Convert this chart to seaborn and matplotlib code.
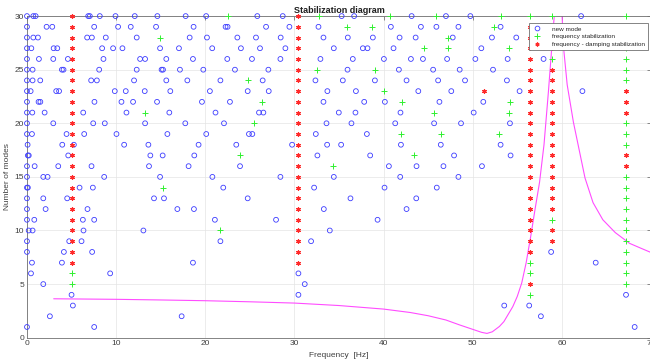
import matplotlib
matplotlib.use("Agg")
import matplotlib.pyplot as plt
from matplotlib.lines import Line2D
import pandas as pd
import seaborn as sns

# Identified poles per model order (frequencies in Hz)
new_mode_hz = {
    30: [0, 0.71, 0.97, 6.87, 7.05, 8.17, 9.93, 12.09, 14.63, 17.8, 20.1, 25.84, 28.69,
         35.3, 36.7, 43.15, 47.0, 49.74, 62.16],
    29: [0, 2.2, 2.84, 7.54, 10.22, 11.64, 14.48, 18.69, 22.28, 22.5, 26.82, 29.44, 32.7,
         40.82, 44.19, 45.93, 48.4, 53.13],
    28: [0, 0.71, 1.23, 6.75, 7.28, 8.84, 12.31, 18.25, 20.19, 23.6, 25.69, 28.46, 33.26,
         35.99, 38.8, 41.8, 43.6, 47.76, 52.16, 54.89],
    27: [0, 0.49, 2.99, 3.4, 8.43, 9.66, 10.71, 14.93, 17.05, 20.78, 24.0, 26.14, 28.99,
         34.42, 37.68, 38.2, 41.12, 50.97],
    26: [0, 1.34, 2.95, 4.59, 8.58, 12.69, 13.25, 15.63, 18.62, 22.47, 25.24, 28.43, 32.92,
         36.55, 40.04, 43.07, 44.42, 47.13, 50.3, 53.92, 57.95],
    25: [0, 0.63, 3.92, 4.1, 8.1, 12.31, 15.1, 15.26, 17.16, 19.78, 23.33, 27.08, 35.96,
         41.72, 45.56, 48.54, 52.28],
    24: [0, 0.63, 1.49, 7.2, 7.84, 12.01, 15.63, 17.99, 21.7, 26.44, 32.36, 35.43, 39.03,
         42.58, 46.12, 49.14, 53.84],
    23: [0, 0.41, 3.28, 3.6, 9.85, 11.08, 13.21, 16.08, 20.52, 24.76, 27.12, 33.7, 36.9,
         43.9, 47.6, 55.26, 62.31],
    22: [0, 1.3, 1.5, 7.57, 10.6, 11.9, 14.59, 19.63, 22.77, 33.26, 37.83, 40.15, 46.27, 51.19],
    21: [0, 0.6, 1.98, 6.31, 11.16, 15.97, 21.15, 26.03, 26.52, 34.98, 36.85, 41.9, 50.11],
    20: [0, 2.95, 7.43, 8.73, 13.25, 17.76, 22.1, 33.6, 36.4, 41.31, 45.67, 48.69, 54.18],
    19: [0, 0.56, 4.44, 6.42, 10.04, 15.75, 20.11, 24.9, 25.28, 32.4, 38.13],
    18: [0.07, 3.96, 5.26, 10.9, 13.62, 19.25, 23.48, 29.74, 33.67, 35.24, 41.95, 46.42, 53.13],
    17: [0.1, 0.2, 4.63, 13.84, 15.22, 18.77, 32.58, 38.5, 47.91, 54.25],
    16: [0, 0.86, 3.51, 7.24, 13.69, 18.13, 23.9, 40.6, 43.7, 46.72, 51.04],
    15: [0, 1.83, 2.31, 8.66, 14.93, 20.8, 28.43, 34.42, 41.87, 48.4],
    14: [0, 0.1, 5.9, 7.39, 22.02, 32.21, 40.11, 45.97],
    13: [0, 1.83, 4.51, 14.25, 15.37, 24.76, 36.29, 43.67],
    12: [0, 2.09, 6.79, 16.87, 18.73, 33.3, 42.58],
    11: [0, 0.82, 6.27, 7.54, 21.08, 27.94, 39.33],
    10: [0.19, 0.63, 6.34, 13.06, 33.97],
    9: [0, 4.74, 6.12, 21.7, 31.87],
    8: [0, 4.14, 7.31, 58.8],
    7: [0.56, 3.92, 18.62, 63.8],
    6: [0.45, 9.33, 30.45],
    5: [1.83, 31.16],
    4: [5.0, 30.45, 67.2],
    3: [5.15, 53.54, 56.34],
    2: [2.57, 17.35, 57.65],
    1: [0, 7.54, 68.17],
}

freq_stab_hz = {
    30: [22.58, 32.8, 40.67, 45.93, 53.13, 56.4, 58.85, 67.2],
    29: [35.92, 38.76, 52.35, 67.2],
    28: [14.93, 47.2, 67.2],
    27: [44.53, 47.2, 54.1, 67.2],
    26: [58.85, 67.2],
    25: [32.5, 39.0, 67.2],
    24: [24.76, 67.2],
    23: [40.07],
    22: [26.4, 42.02, 54.18],
    21: [13.21, 45.7, 54.1],
    20: [25.43, 67.2],
    19: [41.98, 46.46, 52.99, 67.2],
    18: [67.2],
    17: [23.86, 43.45],
    16: [34.3],
    15: [67.2],
    14: [15.22, 67.2],
    13: [67.2],
    12: [67.2],
    11: [58.85, 67.2],
    10: [21.6, 67.2],
    9: [67.2],
    8: [67.2],
    7: [56.4, 67.2],
    6: [5.0, 56.4, 67.2],
    5: [5.0, 67.2],
    4: [56.4],
}

damp_stab_hz = {
    30: [5.0, 30.4],
    29: [5.0, 30.4, 56.4, 58.85],
    28: [5.0, 30.4, 56.4, 58.85],
    27: [5.0, 30.4, 56.4, 58.85],
    26: [5.0, 30.4, 56.4],
    25: [5.0, 30.4, 56.4, 58.85],
    24: [5.0, 30.4, 56.4, 58.85],
    23: [5.0, 30.4, 51.3, 56.4, 58.85, 67.2],
    22: [5.0, 30.4, 56.4, 58.85, 67.2],
    21: [5.0, 30.4, 56.4, 58.85, 67.2],
    20: [5.0, 30.4, 56.4, 58.85],
    19: [5.0, 30.4, 56.4, 58.85],
    18: [5.0, 30.4, 56.4, 58.85],
    17: [5.0, 30.4, 56.4, 58.85, 67.2],
    16: [5.0, 30.4, 56.4, 58.85, 67.2],
    15: [5.0, 30.4, 56.4, 58.85],
    14: [5.0, 30.4, 56.4, 58.85],
    13: [5.0, 30.4, 56.4, 58.85],
    12: [5.0, 30.4, 56.4, 58.85],
    11: [5.0, 30.4, 56.4],
    10: [5.0, 30.4, 56.4, 58.85],
    9: [5.0, 30.4, 56.4, 58.85],
    8: [5.0, 30.4, 56.4],
    7: [5.0, 30.4],
    5: [56.4],
}

# Frequency response magnitude, scaled to the model-order axis
frf_hz = [3.0, 10.0, 15.0, 20.0, 25.0, 30.0, 35.0, 40.0, 43.0, 45.0, 47.0, 48.5, 50.0,
          51.0, 51.6, 52.2, 53.0, 53.5, 54.0, 54.5, 55.0, 55.5, 56.0, 56.5, 57.0, 57.5,
          58.0, 58.5, 59.0, 59.2, 59.6, 60.0, 60.2, 60.6, 61.3, 62.0, 62.6, 63.5, 64.6,
          66.0, 67.6, 69.0, 70.0]
frf_level = [3.63, 3.58, 3.52, 3.45, 3.35, 3.23, 3.0, 2.67, 2.35, 2.05, 1.65, 1.2, 0.78,
             0.5, 0.4, 0.55, 1.05, 1.5, 2.2, 2.9, 3.85, 5.1, 7.0, 9.4, 12.0, 14.5,
             18.0, 23.0, 28.5, 30.5, 36.0, 30.5, 27.0, 23.6, 20.1, 17.3, 14.9, 12.6, 11.0,
             9.8, 8.8, 8.3, 7.95]

x_ticks = [0, 10, 20, 30, 40, 50, 60, 70]
y_ticks = [0, 5, 10, 15, 20, 25, 30]


def to_frame(table, kind):
    rows = [(f, order, kind) for order, freqs in table.items() for f in freqs]
    return pd.DataFrame(rows, columns=["freq", "order", "kind"])


new_df = to_frame(new_mode_hz, "new mode")
fs_df = to_frame(freq_stab_hz, "frequency stabilization")
fd_df = to_frame(damp_stab_hz, "frequency - damping stabilization")
frf_df = pd.DataFrame({"freq": frf_hz, "level": frf_level})

sns.set_theme(style="whitegrid")
plt.rcParams["font.family"] = ["Liberation Sans", "DejaVu Sans"]

BLUE = "#3c3cff"
GREEN = "#30f030"
RED = "#ff2a2a"
MAGENTA = "#ff4cff"

fig = plt.figure(figsize=(6.5, 3.63), dpi=100)
fig.patch.set_facecolor("white")
ax = fig.add_axes([0.0415, 0.0697, 0.96, 0.886])
ax.set_facecolor("white")

sns.scatterplot(data=new_df, x="freq", y="order", marker="o", s=12,
                facecolors="none", edgecolor=BLUE, linewidth=0.6,
                legend=False, ax=ax, clip_on=False, zorder=3)
sns.scatterplot(data=fs_df, x="freq", y="order", marker="+", s=14,
                color=GREEN, linewidth=0.7, legend=False, ax=ax,
                clip_on=False, zorder=3)
sns.scatterplot(data=fd_df, x="freq", y="order", marker=(6, 2, 0), s=7,
                color=RED, linewidth=0.9, legend=False, ax=ax,
                clip_on=False, zorder=3)
sns.lineplot(data=frf_df, x="freq", y="level", color=MAGENTA, linewidth=0.8,
             sort=False, estimator=None, ax=ax, zorder=2)

ax.set_xlim(0, 70)
ax.set_ylim(0, 30)
ax.set_xticks(x_ticks)
ax.set_yticks(y_ticks)
ax.grid(True, color="#e4e4e4", linewidth=0.5)
ax.tick_params(direction="in", top=True, right=True, length=3, width=0.5,
               color="#606060", labelsize=6, labelcolor="#404040", pad=2)
for sp in ax.spines.values():
    sp.set_color("#707070")
    sp.set_linewidth(0.6)

ax.set_title("Stabilization diagram", fontsize=6.5, fontweight="bold",
             color="#202020", pad=2)
ax.set_xlabel("Frequency  [Hz]", fontsize=6, color="#404040", labelpad=3)
ax.set_ylabel("Number of modes", fontsize=6, color="#404040", labelpad=3)

handles = [
    Line2D([], [], linestyle="none", marker="o", markersize=3.4,
           markerfacecolor="none", markeredgecolor=BLUE, markeredgewidth=0.6),
    Line2D([], [], linestyle="none", marker="+", markersize=3.8,
           color=GREEN, markeredgewidth=0.7),
    Line2D([], [], linestyle="none", marker=(6, 2, 0), markersize=2.8,
           color=RED, markeredgewidth=0.9),
]
labels = ["new mode", "frequency stabilization", "frequency - damping stabilization"]
leg = ax.legend(handles, labels, loc="upper right", bbox_to_anchor=(0.995, 0.978),
                fontsize=4.6, frameon=True, fancybox=False, framealpha=1,
                edgecolor="#707070", facecolor="white", borderpad=0.45,
                labelspacing=0.35, handlelength=1.8, handletextpad=1.4,
                borderaxespad=0)
leg.get_frame().set_linewidth(0.6)
leg.set_zorder(10)

fig.savefig("out.png", dpi=100, facecolor="white")
